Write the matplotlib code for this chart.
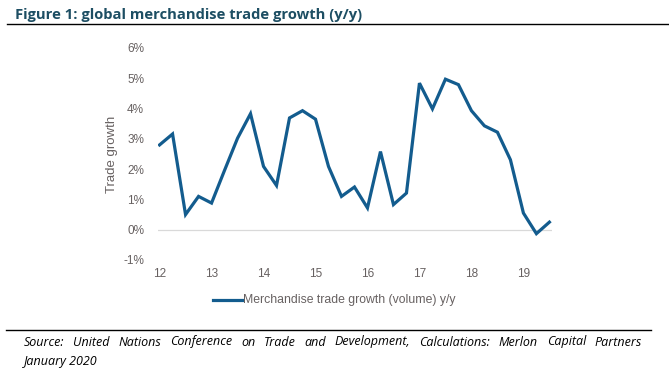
import numpy as np
import matplotlib.pyplot as plt
from matplotlib.lines import Line2D

# quarterly y/y trade growth, 2012Q1 .. 2019Q3
years = np.arange(12, 19.51, 0.25)
growth = [2.80, 3.16, 0.50, 1.10, 0.88, 1.96, 3.02, 3.83,
          2.09, 1.46, 3.69, 3.93, 3.65, 2.09, 1.10, 1.41,
          0.72, 2.58, 0.83, 1.21, 4.84, 3.99, 4.97, 4.79,
          3.93, 3.43, 3.22, 2.31, 0.55, -0.13, 0.25]
xticks = [12, 13, 14, 15, 16, 17, 18, 19]
yticks = [-1, 0, 1, 2, 3, 4, 5, 6]

title = "Figure 1: global merchandise trade growth (y/y)"
series_name = "Merchandise trade growth (volume) y/y"
source1 = "Source: United Nations Conference on Trade and Development, Calculations: Merlon Capital Partners"
source2 = "January 2020"

W, H = 669, 374
fig = plt.figure(figsize=(W / 100, H / 100), dpi=100)
fig.patch.set_facecolor("white")

grey = "#676161"
blue = "#135C8E"
tick_font = dict(family="Liberation Sans", size=8.5, color=grey)

ax = fig.add_axes([158 / W, 1 - 260 / H, (552 - 158) / W, (260 - 48) / H])
ax.plot(years, growth, color=blue, lw=2.3, solid_joinstyle="miter")
ax.axhline(0, color="#D9D9D9", lw=0.9, zorder=0)
ax.set_xlim(11.97, 19.55)
ax.set_ylim(-1, 6)
ax.set_xticks(xticks)
ax.set_xticklabels([str(t) for t in xticks], fontdict=tick_font)
ax.set_yticks(yticks)
ax.set_yticklabels([f"{t}%" for t in yticks], fontdict=tick_font)
for s in ax.spines.values():
    s.set_visible(False)
ax.tick_params(length=0)
ax.tick_params(axis="y", pad=10)
ax.tick_params(axis="x", pad=6)
ax.set_ylabel("Trade growth", fontsize=9.5, color=grey, family="Liberation Sans", labelpad=4)

# legend
fig.add_artist(Line2D([213 / W, 242 / W], [1 - 300 / H] * 2, color=blue, lw=2.3))
fig.text(243 / W, 1 - 300 / H, series_name, fontsize=8.8, color=grey,
         family="Liberation Sans", va="center", ha="left")

# title and rules
fig.text(15 / W, 1 - 15 / H, title, fontsize=10.6, fontweight="bold",
         color="#1D4E63", family="Open Sans", va="center", ha="left")
fig.add_artist(Line2D([7 / W, 1.0], [1 - 24 / H] * 2, color="black", lw=1.0))
fig.add_artist(Line2D([6 / W, 651 / W], [1 - 330 / H] * 2, color="black", lw=1.0))

# justified source line
src_style = dict(fontsize=9, style="italic", color="black", family="Open Sans",
                 va="center", ha="left")
words = source1.split(" ")
renderer = fig.canvas.get_renderer()
x0, x1 = 24, 642
objs = [fig.text(0, 1 - 342 / H, w, **src_style) for w in words]
widths = [o.get_window_extent(renderer).width for o in objs]
gap = (x1 - x0 - sum(widths)) / (len(words) - 1)
x = x0
for o, w in zip(objs, widths):
    o.set_x(x / W)
    x += w + gap
fig.text(24 / W, 1 - 361 / H, source2, **src_style)

fig.savefig("out.png", dpi=100)
